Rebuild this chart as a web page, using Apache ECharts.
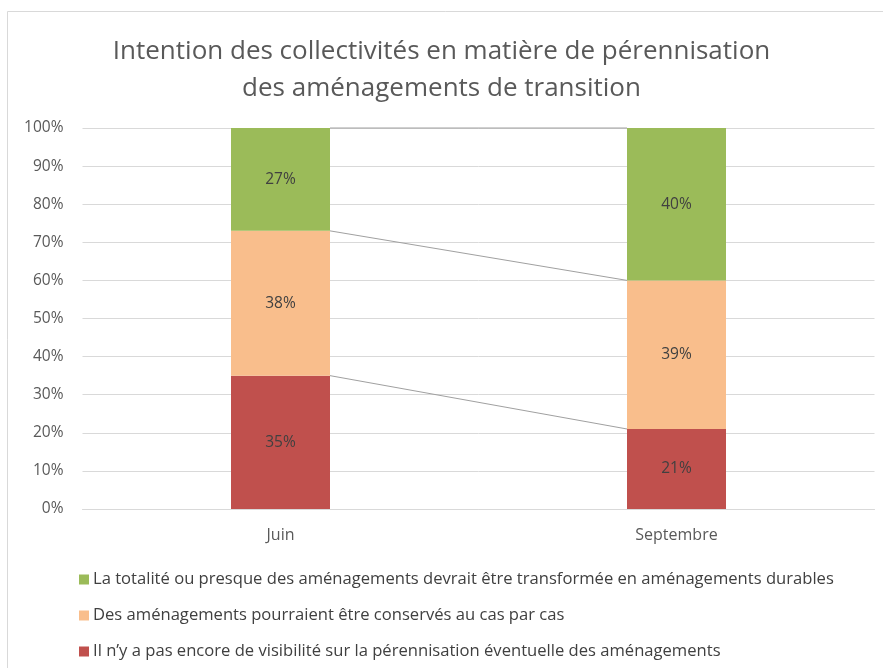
<!DOCTYPE html>
<html>
<head>
<meta charset="utf-8">
<script src="https://cdn.jsdelivr.net/npm/echarts@6/dist/echarts.min.js"></script>
<style>
html,body{margin:0;padding:0;background:#fff;}
#c{width:883px;height:668px;}
</style>
</head>
<body>
<div id="c"></div>
<script>
var categories = ['Juin', 'Septembre'];
var seriesNames = [
  'La totalité ou presque des aménagements devrait être transformée en aménagements durables',
  'Des aménagements pourraient être conservés au cas par cas',
  'Il n’y a pas encore de visibilité sur la pérennisation éventuelle des aménagements'
];
var valuesRed = [35, 21];
var valuesOrange = [38, 39];
var valuesGreen = [27, 40];
var yTicks = [0, 10, 20, 30, 40, 50, 60, 70, 80, 90, 100];

var FONT = '"Open Sans", sans-serif';
var colors = { green: '#9bbb59', orange: '#f9be8c', red: '#c0504d' };

// boundaries for series lines
var stackOrder = [valuesRed, valuesOrange, valuesGreen];
var boundaries = [];
var cum = categories.map(function () { return 0; });
stackOrder.forEach(function (arr) {
  cum = cum.map(function (c, i) { return c + arr[i]; });
  for (var i = 0; i < categories.length - 1; i++) {
    boundaries.push([i, cum[i], cum[i + 1]]);
  }
});

var chart = echarts.init(document.getElementById('c'));
var labelStyle = { show: true, position: 'inside', color: '#404040', fontSize: 15.5, fontFamily: FONT, formatter: '{c}%' };

chart.setOption({
  animation: false,
  backgroundColor: '#fff',
  title: {
    text: 'Intention des collectivités en matière de pérennisation\ndes aménagements de transition',
    left: 'center',
    top: 28,
    textStyle: { color: '#595959', fontSize: 26, fontWeight: 'normal', fontFamily: FONT, lineHeight: 37 }
  },
  graphic: [
    { type: 'line', shape: { x1: 7.5, y1: 11.5, x2: 883, y2: 11.5 }, style: { stroke: '#d9d9d9', lineWidth: 1 }, silent: true },
    { type: 'line', shape: { x1: 7.5, y1: 11.5, x2: 7.5, y2: 668 }, style: { stroke: '#d9d9d9', lineWidth: 1 }, silent: true }
  ],
  legend: {
    orient: 'vertical',
    left: 74,
    top: 566,
    itemWidth: 10,
    itemHeight: 10,
    itemGap: 19,
    icon: 'rect',
    textStyle: { color: '#404040', fontSize: 16.6, fontFamily: FONT, padding: [0, 0, 0, -1] },
    data: seriesNames
  },
  grid: { left: 82.5, right: 8.5, top: 128, bottom: 159 },
  xAxis: {
    type: 'category',
    data: categories,
    axisLine: { show: true, lineStyle: { color: '#d9d9d9' } },
    axisTick: { show: false },
    axisLabel: { color: '#595959', fontSize: 16, fontFamily: FONT, margin: 18 }
  },
  yAxis: {
    type: 'value',
    min: 0, max: 100, interval: 10,
    axisLine: { show: false },
    axisTick: { show: false },
    splitLine: { lineStyle: { color: '#d9d9d9' } },
    axisLabel: { color: '#595959', fontSize: 15.5, fontFamily: FONT, margin: 19, formatter: '{value}%' }
  },
  series: [
    { name: seriesNames[2], type: 'bar', stack: 's', barWidth: '25%', data: valuesRed, itemStyle: { color: colors.red }, label: labelStyle, z: 3 },
    { name: seriesNames[1], type: 'bar', stack: 's', barWidth: '25%', data: valuesOrange, itemStyle: { color: colors.orange }, label: labelStyle, z: 3 },
    { name: seriesNames[0], type: 'bar', stack: 's', barWidth: '25%', data: valuesGreen, itemStyle: { color: colors.green }, label: labelStyle, z: 3 },
    {
      type: 'custom',
      name: 'seriesLines',
      data: boundaries,
      encode: { x: 0, y: 1 },
      z: 4,
      silent: true,
      renderItem: function (params, api) {
        var i = api.value(0);
        var p0 = api.coord([i, api.value(1)]);
        var p1 = api.coord([i + 1, api.value(2)]);
        var hw = api.size([1, 0])[0] * 0.25 / 2;
        return {
          type: 'line',
          shape: { x1: p0[0] + hw, y1: p0[1], x2: p1[0] - hw, y2: p1[1] },
          style: { stroke: '#a0a0a0', lineWidth: 1 }
        };
      }
    }
  ]
});
</script>
</body>
</html>
